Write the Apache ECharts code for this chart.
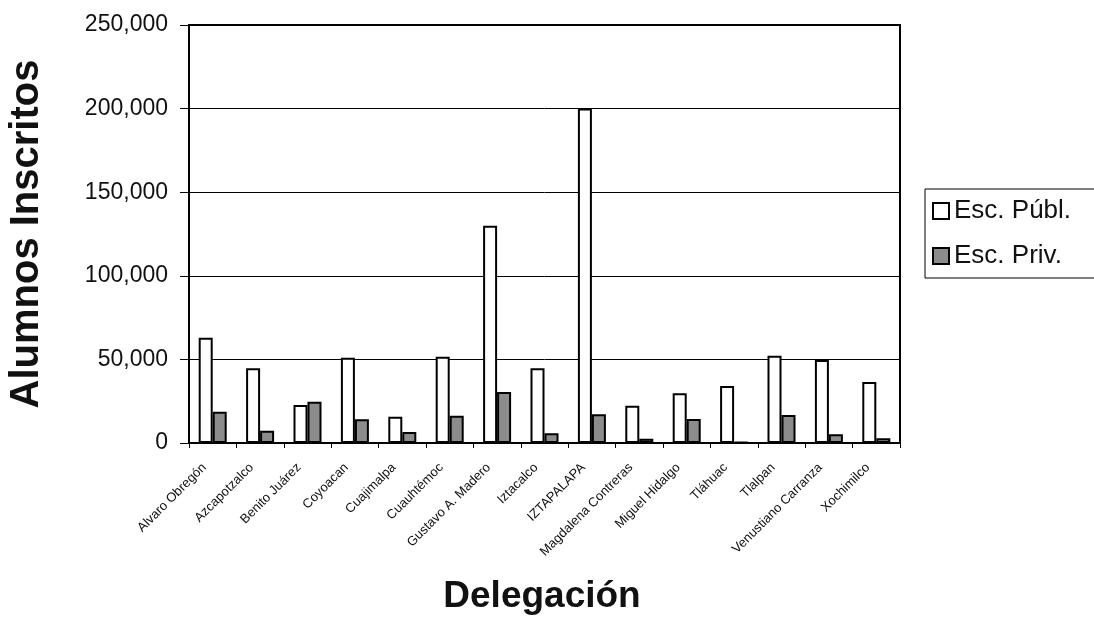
<!DOCTYPE html>
<html>
<head>
<meta charset="utf-8">
<script src="https://cdn.jsdelivr.net/npm/echarts@6/dist/echarts.min.js"></script>
<style>
html,body{margin:0;padding:0;background:#fff;}
#main{width:1094px;height:619px;}
</style>
</head>
<body>
<div id="main"></div>
<script>
const categories = ['Alvaro Obregón','Azcapotzalco','Benito Juárez','Coyoacan','Cuajimalpa','Cuauhtémoc','Gustavo A. Madero','Iztacalco','IZTAPALAPA','Magdalena Contreras','Miguel Hidalgo','Tláhuac','Tlalpan','Venustiano Carranza','Xochimilco'];
const publicas = [63000, 44700, 22700, 51000, 15700, 51600, 130000, 44700, 200000, 22300, 29700, 34100, 52200, 49600, 36500];
const privadas = [18700, 7400, 24700, 14200, 6600, 16300, 30500, 5800, 17200, 2600, 14400, 500, 16700, 5200, 2800];
const seriesNames = ['Esc. Públ.', 'Esc. Priv.'];
const yTicks = {min: 0, max: 250000, interval: 50000};
const yTitle = 'Alumnos Inscritos';
const xTitle = 'Delegación';

const chart = echarts.init(document.getElementById('main'));
const font = 'Liberation Sans, Arial, sans-serif';
chart.setOption({
  animation: false,
  backgroundColor: '#fff',
  textStyle: {fontFamily: font},
  grid: {left: 189, right: 194, top: 25, bottom: 176, show: true, borderColor: '#000', borderWidth: 2, backgroundColor: '#fff'},
  legend: {
    orient: 'vertical', left: 925, top: 189,
    padding: [9, 60, 9, 7], itemGap: 19, itemWidth: 16, itemHeight: 16,
    borderColor: '#000', borderWidth: 1,
    icon: 'rect',
    textStyle: {fontSize: 26, color: '#111', fontFamily: font},
    data: seriesNames
  },
  xAxis: {
    type: 'category', data: categories,
    axisLine: {lineStyle: {color: '#000', width: 2}},
    axisTick: {show: true, length: 5, lineStyle: {color: '#000'}},
    axisLabel: {rotate: 45, fontSize: 13, color: '#111', margin: 14, padding: [0, 12, 0, 0], interval: 0, fontFamily: font}
  },
  yAxis: {
    type: 'value', min: yTicks.min, max: yTicks.max, interval: yTicks.interval,
    axisLine: {show: true, lineStyle: {color: '#000', width: 2}},
    axisTick: {show: true, length: 9, lineStyle: {color: '#000'}},
    splitLine: {show: true, lineStyle: {color: '#000', width: 1}},
    axisLabel: {fontSize: 23, color: '#111', margin: 21, fontFamily: font,
      formatter: v => v.toLocaleString('en-US')}
  },
  series: [
    {name: seriesNames[0], type: 'bar', data: publicas, barWidth: 14, barGap: '0%',
     itemStyle: {color: '#fff', borderColor: '#000', borderWidth: 2}},
    {name: seriesNames[1], type: 'bar', data: privadas, barWidth: 14, barGap: '0%',
     itemStyle: {color: '#8c8c8c', borderColor: '#000', borderWidth: 2}}
  ],
  graphic: [
    {type: 'text', x: 27, y: 234, rotation: Math.PI / 2,
     style: {text: yTitle, fontSize: 40, fontWeight: 'bold', fill: '#111', fontFamily: font, textAlign: 'center', textVerticalAlign: 'middle'}},
    {type: 'text', x: 542, y: 597,
     style: {text: xTitle, fontSize: 37, fontWeight: 'bold', fill: '#111', fontFamily: font, textAlign: 'center', textVerticalAlign: 'middle'}}
  ]
});
</script>
</body>
</html>
